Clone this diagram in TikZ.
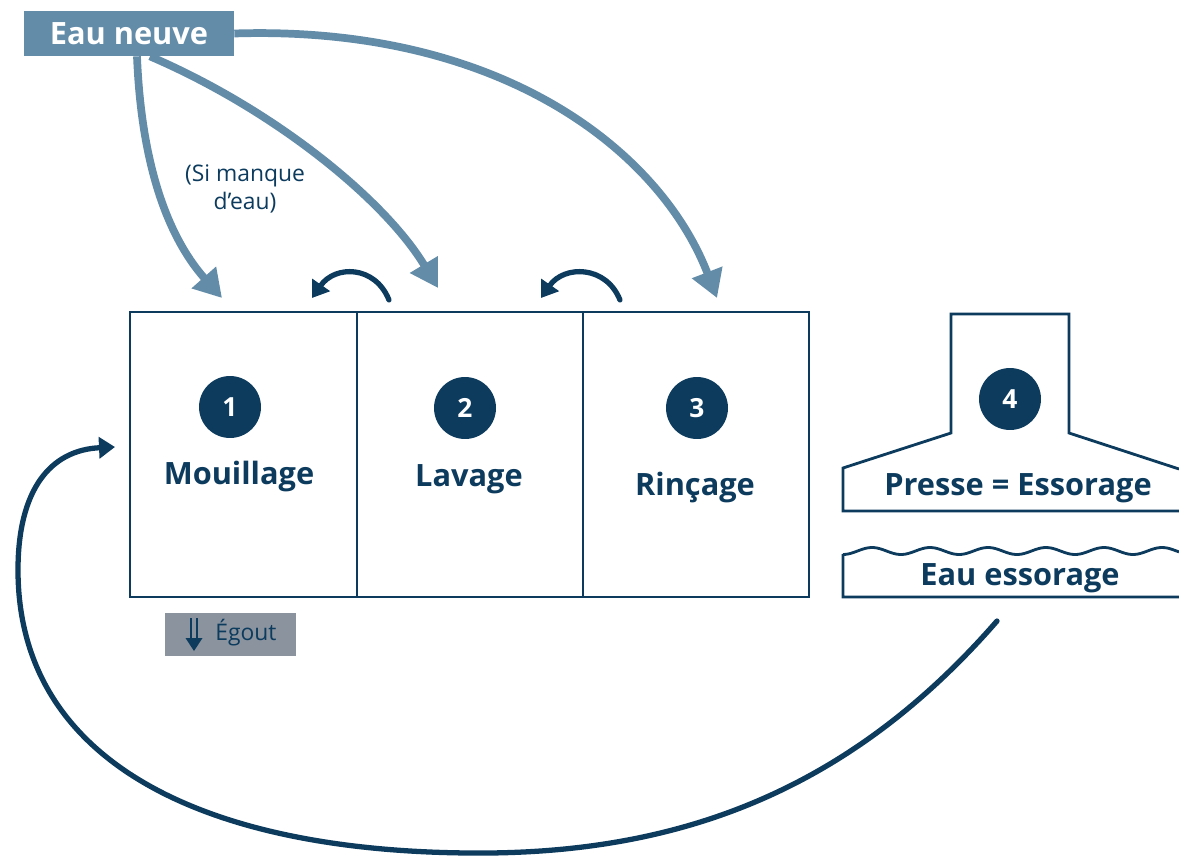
\documentclass[tikz,border=0pt]{standalone}
\usepackage{fontspec}
\setmainfont{Open Sans}
\usetikzlibrary{arrows.meta}
\definecolor{eaubleu}{RGB}{99,140,169}
\definecolor{marine}{RGB}{12,59,94}
\definecolor{egoutgris}{RGB}{138,147,158}
\tikzset{
  numero/.style={circle, fill=marine, text=white, inner sep=0pt,
    minimum size=1.24cm, font=\fontsize{15}{18}\selectfont\bfseries},
  etape/.style={text=marine, font=\fontsize{17.5}{21}\selectfont\bfseries},
  paroi/.style={marine, line width=1.6pt},
  flux/.style={eaubleu, line width=4.4pt, -{Triangle[length=0.55cm, width=0.62cm]}},
  recycle/.style={marine, line width=3pt, line cap=round,
    -{Triangle[length=0.32cm, width=0.42cm]}},
}
\begin{document}
\begin{tikzpicture}[x=0.02cm, y=-0.02cm]
  \useasboundingbox (0,0) rectangle (1179,855);
  % eau neuve
  \node[fill=eaubleu, text=white, minimum width=4.2cm, minimum height=0.9cm,
    font=\fontsize{17.5}{20}\selectfont\bfseries] (eauneuve) at (129,33.5) {Eau neuve};
  % bacs
  \draw[paroi] (130,312) rectangle (809,597);
  \draw[paroi] (357,312) -- (357,597);
  \draw[paroi] (583,312) -- (583,597);
  \node[numero] (n1) at (230,407) {1};
  \node[numero] (n2) at (465,408) {2};
  \node[numero] (n3) at (697,408) {3};
  \node[etape] (mouillage) at (239,477) {Mouillage};
  \node[etape] (lavage) at (469,479) {Lavage};
  \node[etape] (rincage) at (695,488) {Rinçage};
  % presse
  \draw[paroi] (1179,511) -- (843,511) -- (843,468) -- (951,433) -- (951,314)
    -- (1069,314) -- (1069,433) -- (1179,469);
  \node[numero] (n4) at (1010,399) {4};
  \node[etape] (presse) at (1018,488) {Presse = Essorage};
  % eau essorage
  \draw[paroi] (1179,597) -- (843,597) -- (843,554)
    -- plot[domain=843:1179, samples=120] (\x, {551+3.5*sin((\x-843)*6.2069+90)});
  \node[etape] (essorage) at (1020,578) {Eau essorage};
  % egout
  \node[fill=egoutgris, minimum width=2.62cm, minimum height=0.86cm] (egout) at (230.5,634.5) {};
  \node[text=marine, font=\fontsize{13}{16}\selectfont] (egouttxt) at (246,633) {Égout};
  \draw[marine, line width=0.9pt] (191,618) -- (191,641) (197,618) -- (197,641);
  \fill[marine] (185.5,638) -- (202.5,638) -- (194,651) -- cycle;
  \node[text=marine, align=center, font=\fontsize{13}{15.5}\selectfont] (manque) at (245,189)
    {(Si manque\\d’eau)};
  % arrivees d'eau neuve
  \coordinate (in1) at (222,298);
  \coordinate (in2) at (438,288);
  \coordinate (in3) at (717,298);
  \draw[flux] ([xshift=0.16cm]eauneuve.south) .. controls (142,180) and (175,245) .. (in1);
  \draw[flux] ([xshift=0.42cm]eauneuve.south) .. controls (275,110) and (385,200) .. (in2);
  \draw[flux] (eauneuve.east) .. controls (500,25) and (660,150) .. (in3);
  % contre-courant
  \coordinate (d2) at (389,300);
  \coordinate (a1) at (312,298);
  \coordinate (d3) at (620,300);
  \coordinate (a2) at (541,298);
  \draw[recycle] (d2) .. controls (375,265) and (335,265) .. (a1);
  \draw[recycle] (d3) .. controls (606,265) and (564,265) .. (a2);
  % retour eau essorage
  \coordinate (sortie) at (997,621);
  \coordinate (entree) at (115,447);
  \draw[recycle] (sortie) .. controls (850,790) and (680,855) .. (470,853)
    .. controls (200,851) and (18,760) .. (18,570)
    .. controls (18,490) and (50,450) .. (entree);
\end{tikzpicture}
\end{document}
